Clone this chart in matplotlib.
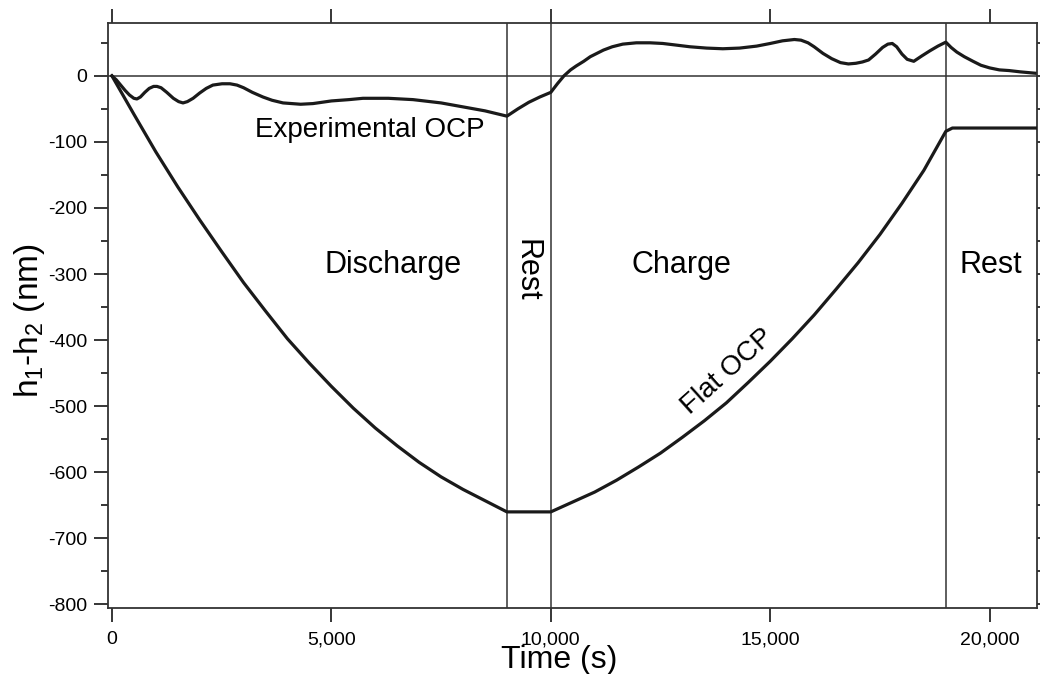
import matplotlib
matplotlib.use("Agg")
import matplotlib.pyplot as plt
from matplotlib.ticker import MultipleLocator, FuncFormatter

plt.rcParams['font.family'] = ['Liberation Sans', 'DejaVu Sans']
plt.rcParams['mathtext.default'] = 'regular'
plt.rcParams['axes.unicode_minus'] = False

# Flat OCP model: discharge, rest, charge, rest
flat_t = [0, 500, 1000, 1500, 2000, 2500, 3000, 3500, 4000, 4500, 5000, 5500,
          6000, 6500, 7000, 7500, 8000, 8500, 9000, 10000, 10500, 11000, 11500,
          12000, 12500, 13000, 13500, 14000, 14500, 15000, 15500, 16000, 16500,
          17000, 17500, 18000, 18500, 19000, 19150, 21070]
flat_h = [0, -58, -115, -168, -218, -266, -313, -356, -398, -435, -470, -503,
          -533, -560, -585, -607, -626, -643, -660, -660, -645, -630, -612,
          -592, -571, -547, -522, -495, -464, -432, -398, -362, -323,
          -283, -240, -193, -143, -84, -79, -79]

# Experimental OCP
exp_t = [0, 100, 200, 300, 400, 500, 570, 650, 750, 850, 950, 1027, 1120,
         1250, 1400, 1520, 1620, 1720, 1850, 2000, 2150, 2300, 2510, 2690,
         2850, 3000, 3200, 3440, 3650, 3900, 4300, 4580, 5000, 5400, 5720,
         6300, 6860, 7500, 8000, 8500, 9000, 9250, 9500, 9750, 10000, 10150,
         10300, 10450, 10580, 10750, 10900, 11050, 11200, 11400, 11640, 11950,
         12260, 12550, 12800, 13170, 13550, 13920, 14300, 14690, 15000, 15280,
         15550, 15700, 15860, 16000, 16200, 16400, 16600, 16780, 16950, 17100,
         17240, 17400, 17560, 17680, 17780, 17880, 18000, 18120, 18270, 18450,
         18640, 18820, 19000, 19120, 19250, 19420, 19620, 19800, 20000, 20220,
         20440, 20700, 21030]
exp_h = [0, -6, -14, -22, -29, -34, -35, -32, -25, -19, -16, -16, -18,
         -25, -34, -39, -41, -39, -34, -26, -19, -14, -12, -12,
         -14, -18, -25, -32, -37, -41, -43, -42, -38, -36, -34,
         -34, -36, -41, -47, -53, -61, -50, -40, -32, -25, -12,
         0, 9, 15, 22, 29, 34, 39, 44, 48, 50,
         50, 49, 47, 44, 42, 41, 42, 45, 49, 53,
         55, 54, 50, 44, 34, 26, 20, 18, 19, 21,
         24, 33, 43, 48, 49, 44, 33, 25, 22, 30,
         38, 45, 51, 43, 36, 29, 22, 16, 12, 9,
         8, 6, 4]

step_edges = [9000, 10000, 19000]
x_ticks = [0, 5000, 10000, 15000, 20000]

fig = plt.figure(figsize=(10.4, 6.74), dpi=100)
ax = fig.add_axes([0.1038, 0.0984, 0.8930, 0.8675])

ink = '#1a1a1a'
ax.axhline(0, color='#333333', lw=1.1, zorder=1)
for xe in step_edges:
    ax.axvline(xe, color='#333333', lw=1.1, zorder=1)

ax.plot(flat_t, flat_h, color=ink, lw=2.3, solid_joinstyle='round', zorder=3)
ax.plot(exp_t, exp_h, color=ink, lw=2.3, solid_joinstyle='round', zorder=3)

ax.set_xlim(-90, 21070)
ax.set_ylim(-805, 80)

ax.set_xticks(x_ticks)
ax.xaxis.set_major_formatter(FuncFormatter(lambda v, p: f"{v:,.0f}"))
ax.yaxis.set_major_locator(MultipleLocator(100))
ax.yaxis.set_minor_locator(MultipleLocator(50))

ax.tick_params(axis='x', which='major', direction='out', length=10, width=1.1,
               top=True, labeltop=False, labelsize=14, pad=7)
ax.tick_params(axis='y', which='major', direction='out', length=10, width=1.1,
               right=True, labelright=False, labelsize=14, pad=5)
ax.tick_params(axis='y', which='minor', direction='out', length=5, width=1.1,
               right=True)
for sp in ax.spines.values():
    sp.set_linewidth(1.3)
    sp.set_color('#333333')

ax.set_xlabel('Time (s)', fontsize=23)
ax.xaxis.set_label_coords(0.486, -0.064)
ax.set_ylabel('h$_1$-h$_2$ (nm)', fontsize=24)
ax.yaxis.set_label_coords(-0.066, 0.49)

ax.text(5870, -92, 'Experimental OCP', fontsize=20, ha='center', va='baseline')
ax.text(6410, -298, 'Discharge', fontsize=22, ha='center', va='baseline')
ax.text(12980, -298, 'Charge', fontsize=22, ha='center', va='baseline')
ax.text(20020, -298, 'Rest', fontsize=22, ha='center', va='baseline')
ax.text(9450, -295, 'Rest', fontsize=22, ha='center', va='center', rotation=-90)
ax.text(14040, -448, 'Flat OCP', fontsize=20, ha='center', va='center', rotation=42)

fig.savefig('out.png', dpi=100)
